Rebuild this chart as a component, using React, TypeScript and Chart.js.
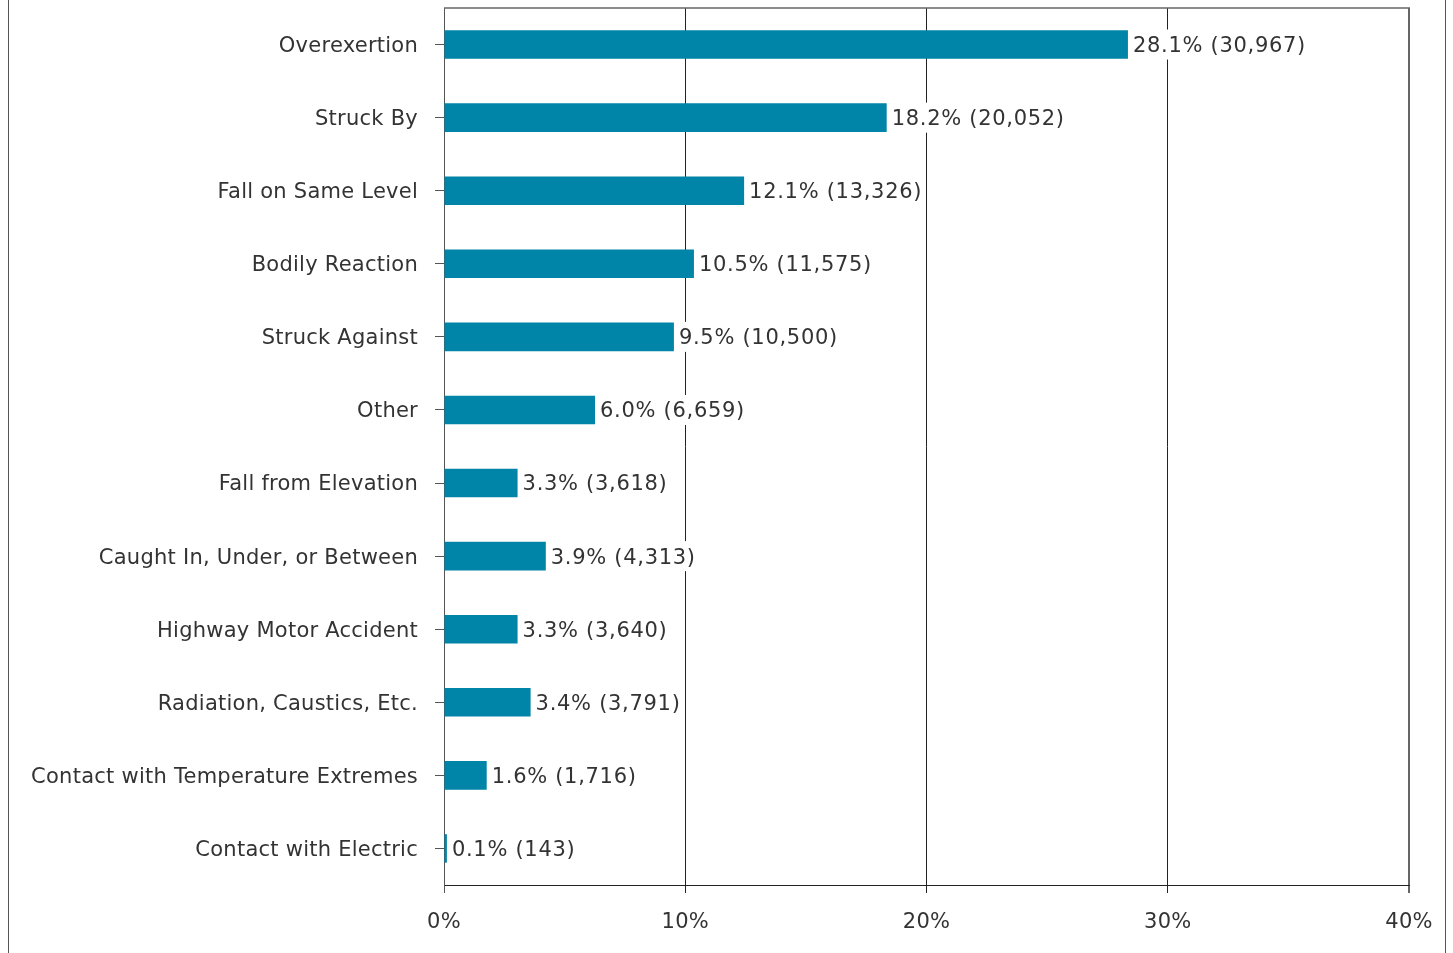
import React, { useEffect, useRef } from "react";
import { Chart, registerables } from "chart.js";

Chart.register(...registerables);

const categories = [
  "Overexertion",
  "Struck By",
  "Fall on Same Level",
  "Bodily Reaction",
  "Struck Against",
  "Other",
  "Fall from Elevation",
  "Caught In, Under, or Between",
  "Highway Motor Accident",
  "Radiation, Caustics, Etc.",
  "Contact with Temperature Extremes",
  "Contact with Electric",
];

// bar lengths (percent) as drawn in the picture
const barValues = [28.35, 18.35, 12.44, 10.36, 9.53, 6.26, 3.05, 4.22, 3.05, 3.59, 1.77, 0.12];

// label texts shown next to each bar
const sharePercents = [28.1, 18.2, 12.1, 10.5, 9.5, 6.0, 3.3, 3.9, 3.3, 3.4, 1.6, 0.1];
const caseCounts = [30967, 20052, 13326, 11575, 10500, 6659, 3618, 4313, 3640, 3791, 1716, 143];

const xTicks = [0, 10, 20, 30, 40];

const FONT = '"DejaVu Sans", Verdana, sans-serif';
const TEXT = "#333333";
const BAR = "#0084A8";

const fmtCount = (n: number) => n.toLocaleString("en-US");

const spacing = {
  id: "spacing",
  beforeDraw(chart: any) {
    (chart.ctx as any).letterSpacing = "0.25px";
  },
  afterDraw(chart: any) {
    (chart.ctx as any).letterSpacing = "0px";
  },
};

const valueLabels = {
  id: "valueLabels",
  afterDatasetsDraw(chart: any) {
    const ctx = chart.ctx;
    const meta = chart.getDatasetMeta(0);
    ctx.save();
    ctx.font = `21px ${FONT}`;
    (ctx as any).letterSpacing = "0.7px";
    ctx.textBaseline = "middle";
    ctx.textAlign = "left";
    meta.data.forEach((bar: any, i: number) => {
      const text = `${sharePercents[i].toFixed(1)}% (${fmtCount(caseCounts[i])})`;
      const x = bar.x + 5;
      const y = bar.y;
      const w = ctx.measureText(text).width;
      ctx.fillStyle = "#ffffff";
      ctx.fillRect(x - 1, y - 15, w + 2, 30);
      ctx.fillStyle = TEXT;
      ctx.fillText(text, x, y + 2);
    });
    ctx.restore();
  },
};

const frameLines = {
  id: "frameLines",
  afterDraw(chart: any) {
    const { ctx, chartArea } = chart;
    ctx.save();
    ctx.strokeStyle = "#666666";
    ctx.lineWidth = 1.5;
    ctx.beginPath();
    ctx.moveTo(chartArea.left, chartArea.top);
    ctx.lineTo(chartArea.right + 1, chartArea.top);
    ctx.stroke();
    ctx.restore();
  },
};

export default function App() {
  const ref = useRef<HTMLCanvasElement | null>(null);

  useEffect(() => {
    if (!ref.current) return;
    const chart = new Chart(ref.current, {
      type: "bar",
      data: {
        labels: categories,
        datasets: [
          {
            data: barValues,
            backgroundColor: BAR,
            borderWidth: 0,
            barPercentage: 0.39,
            categoryPercentage: 1,
          },
        ],
      },
      options: {
        indexAxis: "y",
        responsive: false,
        animation: false,
        devicePixelRatio: 1,
        layout: { padding: { top: 8, right: 36, bottom: 0, left: 0 } },
        plugins: {
          legend: { display: false },
          tooltip: { enabled: false },
        },
        scales: {
          x: {
            type: "linear",
            min: 0,
            max: 40,
            afterBuildTicks: (scale: any) => {
              scale.ticks = xTicks.map((v) => ({ value: v }));
            },
            afterFit: (scale: any) => {
              scale.height = 68;
              scale.paddingLeft = 0;
              scale.paddingRight = 0;
            },
            ticks: {
              font: { family: FONT, size: 21 },
              color: TEXT,
              padding: 17,
              callback: (v: any) => `${v}%`,
            },
            grid: {
              drawOnChartArea: true,
              drawTicks: true,
              tickLength: 8,
              color: (c: any) =>
                c.tick && c.tick.value === 40 ? "#666666" : c.tick && c.tick.value === 0 ? "#555555" : "#222222",
              lineWidth: (c: any) => (c.tick && c.tick.value === 40 ? 2 : 1),
            },
            border: { display: true, color: "#222222", width: 1 },
          },
          y: {
            type: "category",
            afterFit: (scale: any) => {
              scale.width = 435;
              scale.paddingTop = 0;
              scale.paddingBottom = 0;
            },
            ticks: {
              font: { family: FONT, size: 21 },
              color: TEXT,
              padding: 17,
              labelOffset: 2,
            },
            grid: {
              drawOnChartArea: false,
              drawTicks: true,
              tickLength: 9,
              offset: false,
              color: "#555555",
            },
            border: { display: true, color: "#555555", width: 1 },
          },
        },
      },
      plugins: [spacing, valueLabels, frameLines],
    } as any);
    return () => chart.destroy();
  }, []);

  return (
    <div
      style={{
        position: "absolute",
        left: 8,
        top: 0,
        width: 1436,
        height: 953,
        borderLeft: "1px solid #555555",
        borderRight: "1px solid #555555",
        background: "#ffffff",
      }}
    >
      <canvas ref={ref} width={1436} height={953} style={{ display: "block", width: 1436, height: 953 }} />
    </div>
  );
}
